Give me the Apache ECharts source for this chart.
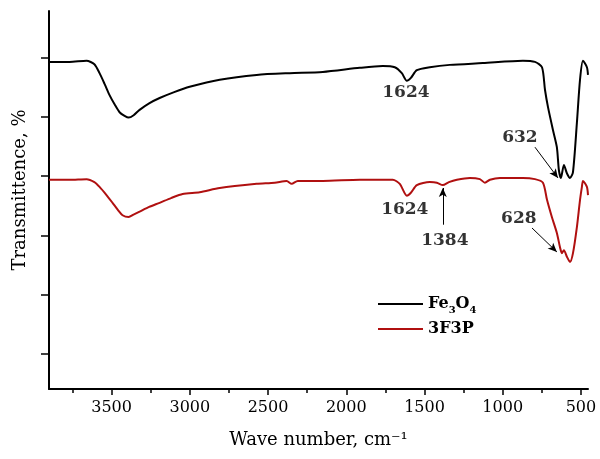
<!DOCTYPE html>
<html>
<head>
<meta charset="utf-8">
<script src="https://cdn.jsdelivr.net/npm/echarts@6/dist/echarts.min.js"></script>
<style>html,body{margin:0;padding:0;background:#fff}#c{width:600px;height:459px}</style>
</head>
<body>
<div id="c"></div>
<script>
// Wavenumbers (cm^-1) and transmittance (arbitrary units)
const fe3o4Wave = [3900,3769,3660,3610,3577,3545,3513,3480,3449,3417,3391,3359,3321,3260,3193,3100,3001,2809,2573,2361,2150,1914,1767,1690,1645,1613,1587,1549,1466,1338,1127,871,794,749,730,711,679,654,641,628,609,590,570,551,526,506,487,462,455];
const fe3o4T    = [59.3,59.3,59.5,58.9,57.4,55.6,53.7,52.1,50.8,50.2,49.9,50.3,51.2,52.3,53.2,54.2,55.1,56.3,57.1,57.4,57.6,58.3,58.6,58.4,57.4,56.1,56.6,57.9,58.4,58.8,59.1,59.5,59.3,58.4,54.6,51.7,47.8,44.9,41.0,39.7,41.9,40.5,39.7,40.7,49.0,56.3,59.5,58.4,57.1];
const f3pWave = [3900,3769,3660,3610,3577,3535,3494,3460,3430,3391,3360,3321,3260,3193,3120,3046,2937,2809,2573,2457,2381,2349,2310,2150,1914,1703,1658,1613,1587,1549,1466,1421,1383,1344,1293,1210,1146,1114,1082,1018,871,794,743,717,686,654,634,622,609,590,570,551,526,506,494,487,462,455];
const f3pT    = [39.4,39.4,39.5,39.0,38.2,36.9,35.5,34.3,33.4,33.1,33.5,34.0,34.8,35.5,36.3,37.0,37.3,38.0,38.7,38.9,39.2,38.7,39.2,39.2,39.4,39.4,38.7,36.7,37.2,38.5,39.0,38.9,38.5,39.0,39.4,39.7,39.5,38.9,39.4,39.7,39.7,39.5,38.9,36.0,33.1,30.4,28.0,27.0,27.5,26.4,25.5,27.0,31.4,36.0,38.2,39.2,38.2,36.8];

const xTicks = [3500,3000,2500,2000,1500,1000,500];
const xMinorTicks = [3750,3250,2750,2250,1750,1250,750];
const yTicks = [10,20,30,40,50,60];

// Peak annotations
const annotText = ['1624','632','1624','1384','628'];
const annotWave = [1619,890,1626,1370,897];
const annotT    = [54.2,46.6,34.3,29.1,32.8];
// Arrows: [fromWave, fromT, toWave, toT]
const arrows = [[794,44.9,647,39.7],[1383,31.8,1383,38.0],[813,31.25,654,27.2]];

const FONT = 'DejaVu Serif';
const zip = (a,b)=>a.map((v,i)=>[v,b[i]]);

const chart = echarts.init(document.getElementById('c'));
const axisCommon = {
  type:'value', inverse:true, min:455, max:3900,
  splitLine:{show:false}
};
chart.setOption({
  animation:false,
  backgroundColor:'#fff',
  grid:{left:49, right:12, top:11, bottom:70},
  legend:{
    orient:'vertical', left:373, top:291,
    icon:'rect', itemWidth:45, itemHeight:2, itemGap:6,
    data:['Fe3O4','3F3P'],
    formatter: n => n==='Fe3O4' ? '{m|Fe}{s|3}{m|O}{s|4}' : '{m|3F3P}',
    textStyle:{
      fontFamily:FONT, fontWeight:'bold', fontSize:16, color:'#000',
      rich:{
        m:{fontFamily:FONT, fontWeight:'bold', fontSize:16, lineHeight:22, color:'#000'},
        s:{fontFamily:FONT, fontWeight:'bold', fontSize:10, lineHeight:22, verticalAlign:'bottom', color:'#000'}
      }
    }
  },
  xAxis:[
    Object.assign({}, axisCommon, {
      name:'Wave number, cm⁻¹', nameLocation:'middle', nameGap:42,
      nameTextStyle:{fontFamily:FONT, fontSize:18, color:'#000'},
      axisLine:{show:true, lineStyle:{color:'#000', width:2}},
      axisTick:{show:true, length:6, lineStyle:{color:'#000', width:1.5}, customValues:xTicks},
      axisLabel:{show:true, fontFamily:FONT, fontSize:16, color:'#000', margin:11, customValues:xTicks, formatter:v=>String(v)},
    }),
    Object.assign({}, axisCommon, {
      position:'bottom',
      axisLine:{show:false},
      axisTick:{show:true, length:4, lineStyle:{color:'#000', width:1.5}, customValues:xMinorTicks},
      axisLabel:{show:false}
    })
  ],
  yAxis:{
    type:'value', min:4.05, max:67.9,
    name:'Transmittence, %', nameLocation:'middle', nameGap:20,
    nameTextStyle:{fontFamily:FONT, fontSize:18, color:'#000', padding:[0,0,0,20]},
    splitLine:{show:false},
    axisLine:{show:true, lineStyle:{color:'#000', width:2}},
    axisTick:{show:true, length:8, lineStyle:{color:'#000', width:1.5}, customValues:yTicks},
    axisLabel:{show:false}
  },
  series:[
    {name:'Fe3O4', type:'line', data:zip(fe3o4Wave,fe3o4T), showSymbol:false, symbol:'none',
     smooth:0.25,
     lineStyle:{color:'#000', width:2}, itemStyle:{color:'#000'}},
    {name:'3F3P', type:'line', data:zip(f3pWave,f3pT), showSymbol:false, symbol:'none',
     smooth:0.25,
     lineStyle:{color:'#b01010', width:2}, itemStyle:{color:'#b01010'}},
    {name:'annotations', type:'scatter', symbolSize:0, silent:true,
     data: annotText.map((t,i)=>({value:[annotWave[i], annotT[i]], name:t})),
     label:{show:true, position:'inside', formatter:p=>p.name, fontFamily:FONT, fontWeight:'bold', fontSize:17, color:'#000'},
     markLine:{
       silent:true, symbol:['none','arrow'], symbolSize:[6,9],
       label:{show:false},
       lineStyle:{color:'#000', width:1, type:'solid'},
       data: arrows.map(a=>[{coord:[a[0],a[1]]},{coord:[a[2],a[3]]}])
     }
    }
  ]
});
</script>
</body>
</html>
